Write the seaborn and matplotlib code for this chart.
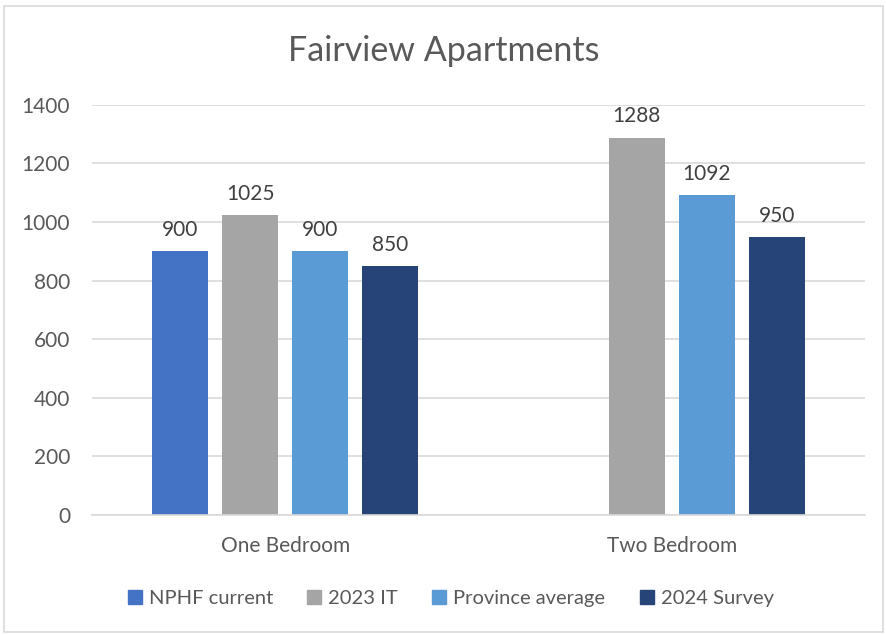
import matplotlib.pyplot as plt
import seaborn as sns
import numpy as np
import pandas as pd
from matplotlib.patches import Rectangle

# data
categories = ["One Bedroom", "Two Bedroom"]
series = ["NPHF current", "2023 IT", "Province average", "2024 Survey"]
nphf_current = [900, np.nan]
it_2023 = [1025, 1288]
province_avg = [900, 1092]
survey_2024 = [850, 950]
colors = ["#4472C4", "#A5A5A5", "#5B9BD5", "#264478"]

rows = []
for name, vals in zip(series, [nphf_current, it_2023, province_avg, survey_2024]):
    for cat, v in zip(categories, vals):
        rows.append({"Category": cat, "Series": name, "Value": v})
df = pd.DataFrame(rows)

sns.set_theme(style="white")
plt.rcParams["font.family"] = ["Lato", "DejaVu Sans"]
txt = "#595959"

fig = plt.figure(figsize=(8.87, 6.35), dpi=100)
ax = fig.add_axes([0.104, 0.189, 0.871, 0.646])

sns.barplot(data=df, x="Category", y="Value", hue="Series", hue_order=series,
            palette=colors, width=0.725, gap=0.2, saturation=1, ax=ax,
            legend=True, edgecolor="none")

for cont in ax.containers:
    labels = ["" if np.isnan(v) else f"{v:.0f}" for v in cont.datavalues]
    ax.bar_label(cont, labels=labels, padding=8, fontsize=15, color="#404040")

ax.set_ylim(0, 1400)
ax.set_xlim(-0.5, 1.5)
ax.set_yticks(range(0, 1401, 200))
ax.yaxis.grid(True, color="#D9D9D9", linewidth=1.2)
ax.set_axisbelow(True)
for s in ["top", "right", "left"]:
    ax.spines[s].set_visible(False)
ax.spines["bottom"].set_color("#D9D9D9")
ax.spines["bottom"].set_linewidth(1.2)
ax.tick_params(axis="both", length=0, labelsize=15, colors=txt)
ax.tick_params(axis="y", pad=16)
ax.tick_params(axis="x", pad=15)
ax.set_xlabel("")
ax.set_ylabel("")

fig.text(0.5, 0.92, "Fairview Apartments", ha="center", va="center",
         fontsize=24.5, color=txt)

ax.get_legend().remove()
handles = [Rectangle((0, 0), 1, 1, color=c) for c in colors]
fig.legend(handles, series, loc="center", bbox_to_anchor=(0.508, 0.058), ncol=4,
           frameon=False, fontsize=14.5, labelcolor=txt, handlelength=0.7,
           handleheight=0.7, handletextpad=0.35, columnspacing=1.7)

fig.patches.append(Rectangle((0.005, 0.005), 0.99, 0.985, transform=fig.transFigure,
                             fill=False, edgecolor="#D9D9D9", linewidth=1.2))

fig.savefig("out.png", dpi=100)
plt.close(fig)
